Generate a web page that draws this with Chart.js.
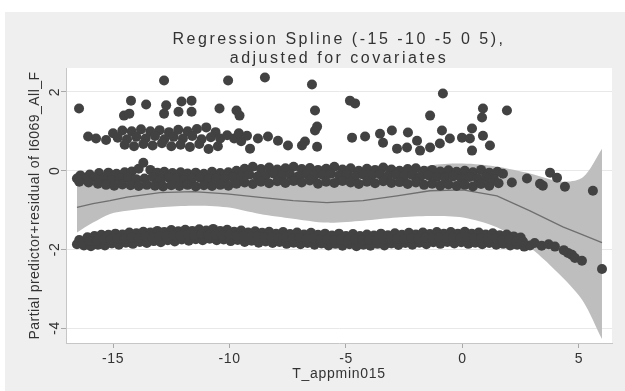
<!DOCTYPE html>
<html>
<head>
<meta charset="utf-8">
<script src="https://cdn.jsdelivr.net/npm/chart.js@4"></script>
<style>
  html, body { margin: 0; padding: 0; background: #ffffff; }
</style>
</head>
<body>
<canvas id="myChart" width="625" height="391"></canvas>
<script>
//axis ticks and texts
const xTicks = [-15, -10, -5, 0, 5];
const yTicks = [-4, -2, 0, 2];
const titleLines = ["Regression Spline (-15 -10 -5 0 5),", "adjusted for covariates"];
const xTitle = "T_appmin015";
const yTitle = "Partial predictor+residual of I6069_All_F";

//fitted spline and its confidence band
const splineX = [-16.55, -15.86, -15.13, -14.4, -12.98, -11.57, -10.11, -8.69, -7.27, -5.82, -4.27, -2.81, -1.39, 0.02, 1.48, 2.9, 4.31, 5.17, 5.99];
const splineFit = [-0.93, -0.84, -0.76, -0.67, -0.56, -0.53, -0.59, -0.68, -0.76, -0.81, -0.76, -0.64, -0.51, -0.49, -0.64, -1.02, -1.43, -1.63, -1.83];
const splineLower = [-1.57, -1.32, -1.1, -1.02, -0.93, -0.89, -0.93, -1.1, -1.22, -1.32, -1.27, -1.19, -1.15, -1.19, -1.44, -1.95, -2.72, -3.31, -4.28];
const splineUpper = [-0.29, -0.36, -0.4, -0.32, -0.19, -0.17, -0.25, -0.26, -0.3, -0.3, -0.25, -0.09, 0.13, 0.18, 0.1, -0.07, -0.28, -0.17, 0.56];

//residual points, lower group (around -1.7)
const lowerBand = [
  [-16.45,-1.76],[-16.1,-1.69],[-15.8,-1.66],[-15.5,-1.63],[-15.2,-1.63],[-14.9,-1.6],[-14.6,-1.62],[-14.3,-1.57],
  [-14.0,-1.59],[-13.7,-1.55],[-13.4,-1.57],[-13.1,-1.53],[-12.8,-1.56],[-12.5,-1.51],[-12.2,-1.54],[-11.9,-1.5],
  [-11.6,-1.53],[-11.3,-1.49],[-11.0,-1.52],[-10.7,-1.48],[-10.4,-1.53],[-10.1,-1.5],[-9.8,-1.55],[-9.5,-1.52],
  [-9.2,-1.57],[-8.9,-1.54],[-8.6,-1.58],[-8.3,-1.55],[-8.0,-1.6],[-7.7,-1.56],[-7.4,-1.61],[-7.1,-1.57],
  [-6.8,-1.62],[-6.5,-1.58],[-6.2,-1.63],[-5.9,-1.6],[-5.6,-1.65],[-5.3,-1.6],[-5.0,-1.66],[-4.7,-1.61],
  [-4.4,-1.66],[-4.1,-1.62],[-3.8,-1.65],[-3.5,-1.6],[-3.2,-1.64],[-2.9,-1.59],[-2.6,-1.63],[-2.3,-1.58],
  [-2.0,-1.62],[-1.7,-1.57],[-1.4,-1.61],[-1.1,-1.56],[-0.8,-1.6],[-0.5,-1.56],[-0.2,-1.6],[0.1,-1.55],
  [0.4,-1.6],[0.7,-1.57],[1.0,-1.62],[1.3,-1.59],[1.6,-1.64],[1.9,-1.62],[2.2,-1.67],[2.5,-1.7],
  [-16.55,-1.87],[-16.25,-1.9],[-15.95,-1.92],[-15.65,-1.88],[-15.35,-1.9],[-15.05,-1.85],[-14.75,-1.88],[-14.45,-1.83],
  [-14.15,-1.86],[-13.85,-1.81],[-13.55,-1.84],[-13.25,-1.79],[-12.95,-1.82],[-12.65,-1.77],[-12.35,-1.8],[-12.05,-1.75],
  [-11.75,-1.78],[-11.45,-1.74],[-11.15,-1.77],[-10.85,-1.73],[-10.55,-1.77],[-10.25,-1.75],[-9.95,-1.79],[-9.65,-1.76],
  [-9.35,-1.81],[-9.05,-1.78],[-8.75,-1.83],[-8.45,-1.8],[-8.15,-1.84],[-7.85,-1.81],[-7.55,-1.86],[-7.25,-1.83],
  [-6.95,-1.87],[-6.65,-1.84],[-6.35,-1.88],[-6.05,-1.85],[-5.75,-1.9],[-5.45,-1.86],[-5.15,-1.91],[-4.85,-1.87],
  [-4.55,-1.92],[-4.25,-1.88],[-3.95,-1.91],[-3.65,-1.86],[-3.35,-1.9],[-3.05,-1.85],[-2.75,-1.89],[-2.45,-1.84],
  [-2.15,-1.88],[-1.85,-1.83],[-1.55,-1.87],[-1.25,-1.82],[-0.95,-1.86],[-0.65,-1.81],[-0.35,-1.85],[-0.05,-1.82],
  [0.25,-1.86],[0.55,-1.83],[0.85,-1.87],[1.15,-1.84],[1.45,-1.88],[1.75,-1.86],[2.05,-1.9],[2.35,-1.88],
  [2.65,-1.93],[2.9,-1.9],
  [-16.3,-1.83],[-16.0,-1.79],[-15.7,-1.78],[-15.4,-1.75],[-15.1,-1.75],[-14.8,-1.72],[-14.5,-1.73],[-14.2,-1.69],
  [-13.9,-1.71],[-13.6,-1.67],[-13.3,-1.69],[-13.0,-1.66],[-12.7,-1.67],[-12.4,-1.64],[-12.1,-1.65],[-11.8,-1.62],
  [-11.5,-1.64],[-11.2,-1.61],[-10.9,-1.63],[-10.6,-1.62],[-10.3,-1.64],[-10.0,-1.63],[-9.7,-1.66],[-9.4,-1.65],
  [-9.1,-1.68],[-8.8,-1.67],[-8.5,-1.7],[-8.2,-1.69],[-7.9,-1.71],[-7.6,-1.7],[-7.3,-1.73],[-7.0,-1.71],
  [-6.7,-1.74],[-6.4,-1.72],[-6.1,-1.75],[-5.8,-1.74],[-5.5,-1.76],[-5.2,-1.75],[-4.9,-1.77],[-4.6,-1.75],
  [-4.3,-1.77],[-4.0,-1.75],[-3.7,-1.76],[-3.4,-1.74],[-3.1,-1.75],[-2.8,-1.73],[-2.5,-1.74],[-2.2,-1.71],
  [-1.9,-1.73],[-1.6,-1.7],[-1.3,-1.72],[-1.0,-1.69],[-0.7,-1.71],[-0.4,-1.69],[-0.1,-1.71],[0.2,-1.69],
  [0.5,-1.72],[0.8,-1.71],[1.1,-1.73],[1.4,-1.72],[1.7,-1.76],[2.0,-1.75],[2.3,-1.79],[2.6,-1.8],
  [3.1,-1.84],[3.4,-1.91],[3.7,-1.87],[3.97,-1.93],[4.35,-2.02],[4.53,-2.09],[4.7,-2.14],[4.83,-2.22],
  [5.13,-2.29],[5.99,-2.5]
];

//residual points, upper group (around -0.2)
const upperBand = [
  [-16.4,-0.12],[-16.0,-0.1],[-15.6,-0.06],[-15.2,-0.05],[-14.85,-0.08],[-14.5,-0.04],[-14.2,-0.02],[-13.9,0.05],
  [-13.7,0.2],[-13.4,0.02],[-13.1,-0.05],[-12.8,-0.03],[-12.45,-0.06],[-12.1,-0.04],[-11.8,-0.07],[-11.45,-0.05],
  [-11.1,-0.08],[-10.75,-0.03],[-10.4,-0.06],[-10.05,-0.04],[-9.7,0.0],[-9.35,0.05],[-9.0,0.1],[-8.65,0.04],
  [-8.3,0.08],[-7.95,0.03],[-7.6,0.06],[-7.25,0.1],[-6.9,0.04],[-6.55,0.07],[-6.2,0.02],[-5.85,0.05],
  [-5.5,0.1],[-5.15,0.03],[-4.8,0.06],[-4.45,0.0],[-4.1,0.05],[-3.75,0.02],[-3.4,0.08],[-3.05,0.03],
  [-2.7,0.0],[-2.35,0.04],[-2.0,0.06],[-1.65,0.0],[-1.3,0.02],[-0.95,-0.02],[-0.6,0.01],[-0.25,-0.03],
  [0.1,0.0],[0.45,-0.04],[0.8,0.02],[1.15,-0.05],[1.5,-0.03],
  [-16.55,-0.2],[-16.2,-0.22],[-15.8,-0.18],[-15.4,-0.2],[-15.05,-0.24],[-14.7,-0.2],[-14.35,-0.18],[-14.0,-0.22],
  [-13.65,-0.2],[-13.3,-0.16],[-12.95,-0.22],[-12.6,-0.18],[-12.25,-0.2],[-11.95,-0.24],[-11.6,-0.2],[-11.25,-0.18],
  [-10.9,-0.22],[-10.55,-0.19],[-10.2,-0.21],[-9.85,-0.17],[-9.5,-0.14],[-9.15,-0.1],[-8.8,-0.15],[-8.45,-0.12],
  [-8.1,-0.08],[-7.75,-0.13],[-7.4,-0.1],[-7.05,-0.14],[-6.7,-0.09],[-6.35,-0.13],[-6.0,-0.11],[-5.65,-0.08],
  [-5.3,-0.12],[-4.95,-0.1],[-4.6,-0.14],[-4.25,-0.1],[-3.9,-0.12],[-3.55,-0.09],[-3.2,-0.13],[-2.85,-0.1],
  [-2.5,-0.14],[-2.15,-0.11],[-1.8,-0.15],[-1.45,-0.12],[-1.1,-0.16],[-0.75,-0.18],[-0.4,-0.15],[-0.05,-0.19],
  [0.3,-0.16],[0.65,-0.2],[1.0,-0.17],[1.35,-0.21],
  [-16.45,-0.28],[-16.05,-0.3],[-15.65,-0.33],[-15.3,-0.36],[-14.95,-0.38],[-14.6,-0.35],[-14.25,-0.37],[-13.9,-0.39],
  [-13.55,-0.36],[-13.2,-0.38],[-12.85,-0.4],[-12.5,-0.37],[-12.15,-0.39],[-11.8,-0.36],[-11.45,-0.4],[-11.1,-0.37],
  [-10.75,-0.39],[-10.4,-0.36],[-10.05,-0.38],[-9.7,-0.33],[-9.35,-0.3],[-9.0,-0.34],[-8.65,-0.28],[-8.3,-0.32],
  [-7.95,-0.27],[-7.6,-0.31],[-7.25,-0.26],[-6.9,-0.3],[-6.55,-0.25],[-6.2,-0.33],[-5.85,-0.28],[-5.5,-0.31],
  [-5.15,-0.26],[-4.8,-0.3],[-4.45,-0.34],[-4.1,-0.28],[-3.75,-0.32],[-3.4,-0.27],[-3.05,-0.31],[-2.7,-0.29],
  [-2.35,-0.34],[-2.0,-0.3],[-1.65,-0.36],[-1.3,-0.33],[-0.95,-0.38],[-0.6,-0.35],[-0.25,-0.39],[0.1,-0.36],
  [0.45,-0.4],[0.8,-0.34],[1.15,-0.38],[1.55,-0.32],
  [1.74,-0.08],[2.12,-0.3],[2.77,-0.2],[3.33,-0.33],[3.45,-0.38],[3.76,-0.05],[4.06,-0.18],[4.4,-0.41],[5.6,-0.51]
];

//residual points, group around 0.8
const middleGroup = [
  [-16.07,0.87],[-15.73,0.82],[-15.3,0.78],
  [-15.0,0.95],[-14.6,1.02],[-14.2,1.0],[-13.8,1.05],[-13.4,1.0],[-13.0,1.03],[-12.6,0.98],[-12.2,1.04],
  [-11.8,1.0],[-11.4,1.06],[-11.0,1.1],[-10.6,0.98],
  [-14.8,0.84],[-14.4,0.8],[-14.0,0.86],[-13.6,0.82],[-13.2,0.88],[-12.8,0.8],[-12.4,0.86],[-12.0,0.82],
  [-11.6,0.88],[-11.2,0.8],[-10.8,0.85],[-10.4,0.82],
  [-14.5,0.66],[-14.1,0.62],[-13.7,0.68],[-13.3,0.64],[-12.9,0.7],[-12.5,0.62],[-12.1,0.66],[-11.7,0.6],
  [-11.3,0.68],[-10.9,0.55],[-10.5,0.62],
  [-10.1,0.9],[-9.8,0.82],[-9.5,0.75],[-9.6,0.95],
  [-9.25,0.89],[-9.12,0.56],[-8.78,0.82],[-8.35,0.87],[-7.92,0.76],[-7.49,0.64],[-6.89,0.64],[-6.76,0.74],
  [-6.24,0.61],[-6.33,1.02],[-6.24,1.12],
  [-4.74,0.84],[-4.18,0.87],[-3.54,0.94],[-3.03,1.02],[-2.34,0.97],[-3.41,0.71],[-2.81,0.56],[-2.38,0.59],
  [-1.95,0.76],[-1.82,0.51],[-1.39,0.59],[-0.97,0.69],[-0.54,0.82],[-0.02,0.84],[0.32,0.82],[0.41,0.51],
  [0.88,0.89],[1.18,0.64],[-0.88,1.02],[0.41,1.07]
];

//scattered high residuals
const outliers = [
  [-16.46,1.58],[-14.23,1.78],[-13.58,1.68],[-12.81,2.29],[-10.06,2.29],[-14.53,1.4],[-14.3,1.45],[-12.72,1.66],
  [-12.81,1.45],[-12.19,1.5],[-12.06,1.76],[-11.63,1.78],[-11.63,1.5],[-10.43,1.58],[-9.7,1.53],[-9.57,1.4],
  [-8.48,2.37],[-6.46,2.19],[-4.83,1.78],[-4.61,1.71],[-6.33,1.53],[-1.39,1.4],[-0.84,1.96],[0.88,1.58],
  [0.84,1.35],[1.91,1.53]
];

const textFont = "'Liberation Sans', Arial, sans-serif";

const points = [...lowerBand, ...upperBand, ...middleGroup, ...outliers].map(([x, y]) => ({ x: x, y: y }));
const fitData = splineX.map((x, i) => ({ x: x, y: splineFit[i] }));
const lowerData = splineX.map((x, i) => ({ x: x, y: splineLower[i] }));
const upperData = splineX.map((x, i) => ({ x: x, y: splineUpper[i] }));

//grey frame, white plot area and the titles
const framePlugin = {
  id: "frame",
  beforeDraw(chart) {
    const ctx = chart.ctx;
    const a = chart.chartArea;
    ctx.save();
    ctx.fillStyle = "#ffffff";
    ctx.fillRect(0, 0, chart.width, chart.height);
    ctx.fillStyle = "#efefef";
    ctx.fillRect(5, 12, chart.width - 5, chart.height - 12);
    ctx.fillStyle = "#ffffff";
    ctx.fillRect(a.left, a.top, a.right - a.left, a.bottom - a.top);
    ctx.restore();
    ctx.letterSpacing = "0.6px";
  },
  afterDraw(chart) {
    const ctx = chart.ctx;
    const a = chart.chartArea;
    const cx = (a.left + a.right) / 2;
    ctx.save();
    ctx.fillStyle = "#333333";
    ctx.textAlign = "center";
    ctx.textBaseline = "middle";

    ctx.font = "16px " + textFont;
    ctx.letterSpacing = "2.5px";
    ctx.fillText(titleLines[0], cx, a.top - 28);
    ctx.fillText(titleLines[1], cx, a.top - 9);

    ctx.font = "14px " + textFont;
    ctx.letterSpacing = "0.7px";
    ctx.fillText(xTitle, cx, a.bottom + 31);

    ctx.translate(35, (a.top + a.bottom) / 2);
    ctx.rotate(-Math.PI / 2);
    ctx.letterSpacing = "0.45px";
    ctx.fillText(yTitle, 0, 0);
    ctx.restore();
  },
};

const ctx = document.getElementById("myChart");

new Chart(ctx, {
  type: "scatter",
  data: {
    datasets: [
      {
        label: "residuals",
        data: points,
        pointRadius: 5,
        backgroundColor: "#424242",
        borderWidth: 0,
        order: 0,
      },
      {
        label: "fit",
        data: fitData,
        showLine: true,
        borderColor: "#6f6f6f",
        borderWidth: 1.3,
        pointRadius: 0,
        order: 1,
      },
      {
        label: "lower",
        data: lowerData,
        showLine: true,
        borderColor: "rgba(0,0,0,0)",
        borderWidth: 0,
        pointRadius: 0,
        tension: 0.3,
        fill: false,
        order: 3,
      },
      {
        label: "upper",
        data: upperData,
        showLine: true,
        borderColor: "rgba(0,0,0,0)",
        borderWidth: 0,
        pointRadius: 0,
        tension: 0.3,
        fill: "-1",
        backgroundColor: "#bebebe",
        order: 2,
      },
    ],
  },
  options: {
    responsive: false,
    animation: false,
    devicePixelRatio: 1,
    events: [],
    layout: { padding: { top: 68, left: 0, right: 13, bottom: 0 } },
    plugins: {
      legend: { display: false },
      title: { display: false },
      tooltip: { enabled: false },
    },
    scales: {
      x: {
        type: "linear",
        min: -17.02,
        max: 6.42,
        afterBuildTicks: (scale) => {
          scale.ticks = xTicks.map((v) => ({ value: v }));
        },
        afterFit: (scale) => {
          scale.height = 48;
        },
        grid: { drawOnChartArea: false, tickLength: 5, tickColor: "#a8a8a8" },
        border: { color: "#c6c6c6" },
        ticks: {
          padding: 3,
          maxRotation: 0,
          autoSkip: false,
          color: "#333333",
          font: { family: textFont, size: 14 },
        },
      },
      y: {
        type: "linear",
        min: -4.38,
        max: 2.61,
        afterBuildTicks: (scale) => {
          scale.ticks = yTicks.map((v) => ({ value: v }));
        },
        afterFit: (scale) => {
          scale.width = 66;
        },
        grid: { color: "#e8e8e8", tickLength: 5, tickColor: "#a8a8a8" },
        border: { color: "#c6c6c6" },
        ticks: {
          minRotation: 90,
          maxRotation: 90,
          crossAlign: "center",
          padding: 0,
          autoSkip: false,
          color: "#333333",
          font: { family: textFont, size: 14 },
        },
      },
    },
  },
  plugins: [framePlugin],
});
</script>
</body>
</html>
